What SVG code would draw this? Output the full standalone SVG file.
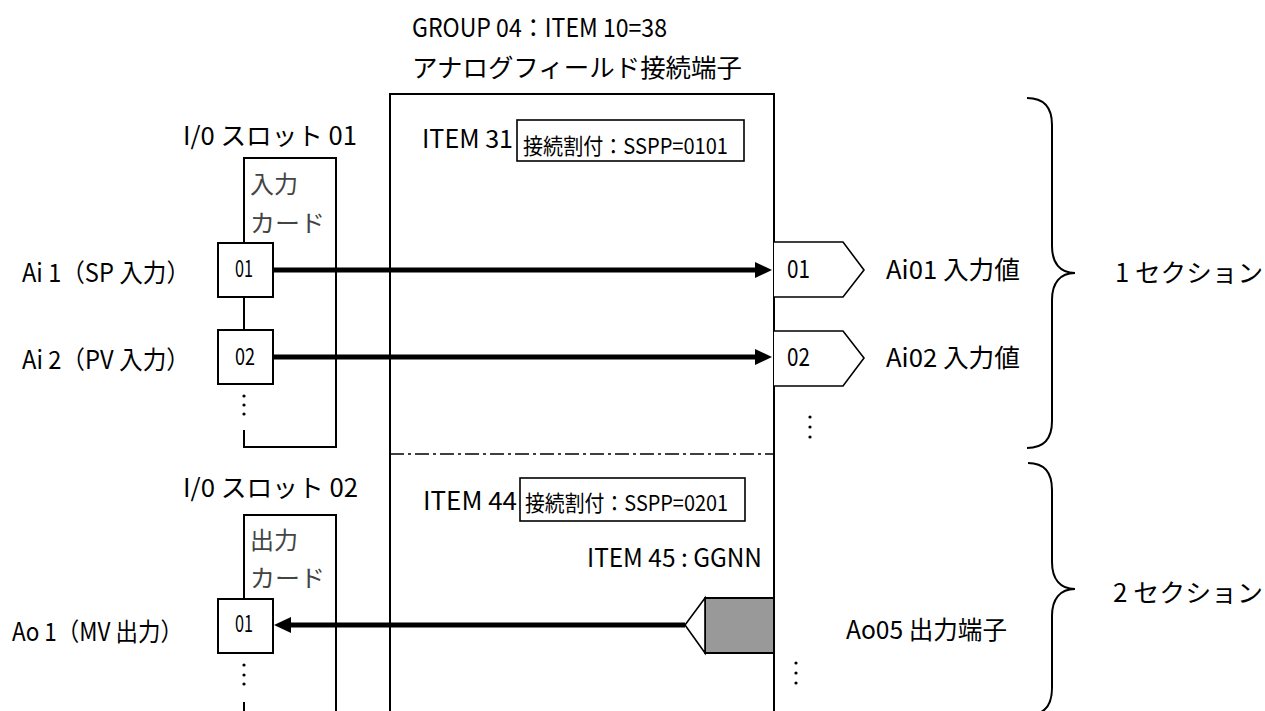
<svg xmlns="http://www.w3.org/2000/svg" width="1265" height="711" viewBox="0 0 1265 711">
<style>
text{font-family:"Noto Sans CJK JP","Noto Sans",sans-serif;font-size:25px;fill:#000}
.sm{font-size:22px}
.num{font-size:23px}
.card{fill:#444;font-size:24px}
.ln{fill:none;stroke:#000;stroke-width:2}
.box{fill:#fff;stroke:#000;stroke-width:2}
.thin{fill:#fff;stroke:#000;stroke-width:1.6}
.wire{fill:none;stroke:#000;stroke-width:5}
.dot{fill:#000}
</style>
<defs>
<marker id="ah" markerUnits="userSpaceOnUse" markerWidth="20" markerHeight="20" viewBox="0 -10 20 20" refX="2" refY="0" orient="auto">
<path d="M0,-8 L17,0 L0,8 Z" fill="#000"/>
</marker>
</defs>
<rect width="1265" height="711" fill="#fff"/>

<g id="title">
<text x="412" y="37" font-size="27" textLength="255" lengthAdjust="spacingAndGlyphs">GROUP 04：ITEM 10=38</text>
<text x="412" y="77" font-size="25" textLength="330" lengthAdjust="spacingAndGlyphs">アナログフィールド接続端子</text>
</g>

<g id="terminal-block">
<path class="ln" d="M390,711 L390,94 L774,94 L774,711"/>
<line x1="390" y1="454" x2="774" y2="454" stroke="#000" stroke-width="1.6" stroke-dasharray="14 4 3 4"/>
<text x="422" y="148" textLength="91" lengthAdjust="spacingAndGlyphs">ITEM  31</text>
<rect class="thin" x="517" y="120" width="227" height="41"/>
<text x="523" y="154" class="sm" textLength="205" lengthAdjust="spacingAndGlyphs">接続割付：SSPP=0101</text>
<text x="423" y="510" textLength="94" lengthAdjust="spacingAndGlyphs">ITEM  44</text>
<rect class="thin" x="520" y="478" width="225" height="43"/>
<text x="525" y="511" class="sm" textLength="203" lengthAdjust="spacingAndGlyphs">接続割付：SSPP=0201</text>
<text x="587" y="567" textLength="175" lengthAdjust="spacingAndGlyphs">ITEM 45 : GGNN</text>
</g>

<g id="slot01">
<text x="183" y="145" textLength="174" lengthAdjust="spacingAndGlyphs">I/0 スロット 01</text>
<path class="ln" d="M244,243 L244,158 L336,158 L336,447 L244,447 L244,430"/>
<line class="ln" x1="244" y1="297" x2="244" y2="330"/>
<text x="250" y="193" class="card">入力</text>
<text x="250" y="232" class="card" textLength="75" lengthAdjust="spacingAndGlyphs">カード</text>
<circle class="dot" cx="244" cy="396" r="1.6"/>
<circle class="dot" cx="244" cy="405" r="1.6"/>
<circle class="dot" cx="244" cy="414" r="1.6"/>
</g>

<g id="ai01-in">
<text x="22" y="282" textLength="168" lengthAdjust="spacingAndGlyphs">Ai 1（SP 入力）</text>
<rect class="box" x="218" y="243" width="55" height="54"/>
<text x="235" y="277" class="num" textLength="18" lengthAdjust="spacingAndGlyphs">01</text>
</g>

<g id="ai02-in">
<text x="22" y="369" textLength="168" lengthAdjust="spacingAndGlyphs">Ai 2（PV 入力）</text>
<rect class="box" x="218" y="330" width="55" height="54"/>
<text x="235" y="365" class="num" textLength="20" lengthAdjust="spacingAndGlyphs">02</text>
</g>

<g id="slot02">
<text x="183" y="497" textLength="175" lengthAdjust="spacingAndGlyphs">I/0 スロット 02</text>
<path class="ln" d="M244,599 L244,515 L336,515 L336,711"/>
<line class="ln" x1="244" y1="702" x2="244" y2="711"/>
<text x="250" y="549" class="card">出力</text>
<text x="250" y="587" class="card" textLength="75" lengthAdjust="spacingAndGlyphs">カード</text>
<circle class="dot" cx="244" cy="665" r="1.6"/>
<circle class="dot" cx="244" cy="675" r="1.6"/>
<circle class="dot" cx="244" cy="684" r="1.6"/>
</g>

<g id="ao01-out">
<text x="12" y="641" textLength="171" lengthAdjust="spacingAndGlyphs">Ao 1（MV 出力）</text>
<rect class="box" x="218" y="599" width="55" height="54"/>
<text x="235" y="632" class="num" textLength="18" lengthAdjust="spacingAndGlyphs">01</text>
</g>

<g id="term01">
<path class="thin" d="M774,242 L843,242 L864,270 L843,297 L774,297"/>
<text x="787" y="278" textLength="23" lengthAdjust="spacingAndGlyphs">01</text>
<text x="886" y="279" textLength="134" lengthAdjust="spacingAndGlyphs">Ai01 入力値</text>
</g>

<g id="term02">
<path class="thin" d="M774,331 L843,331 L864,358 L843,386 L774,386"/>
<text x="787" y="366" textLength="23" lengthAdjust="spacingAndGlyphs">02</text>
<text x="886" y="367" textLength="134" lengthAdjust="spacingAndGlyphs">Ai02 入力値</text>
<circle class="dot" cx="810" cy="417" r="1.6"/>
<circle class="dot" cx="810" cy="427" r="1.6"/>
<circle class="dot" cx="810" cy="437" r="1.6"/>
</g>

<g id="ao05">
<rect x="705" y="598" width="69" height="55" fill="#999" stroke="#000" stroke-width="2"/>
<path class="thin" d="M705,598 L685,625 L705,653 Z"/>
<text x="846" y="639" textLength="161" lengthAdjust="spacingAndGlyphs">Ao05 出力端子</text>
<circle class="dot" cx="796" cy="663" r="1.6"/>
<circle class="dot" cx="796" cy="673" r="1.6"/>
<circle class="dot" cx="796" cy="683" r="1.6"/>
</g>

<g id="section1">
<path class="ln" d="M1027,98 C1045,98 1052,108 1052,125 L1052,246 C1052,263 1060,273 1075,273 C1060,273 1052,283 1052,300 L1052,421 C1052,438 1045,448 1027,448"/>
<text x="1115" y="282" textLength="148" lengthAdjust="spacingAndGlyphs">1 セクション</text>
</g>

<g id="section2">
<path class="ln" d="M1028,463 C1045,463 1052,473 1052,490 L1052,562 C1052,579 1060,589 1075,589 C1060,589 1052,599 1052,616 L1052,688 C1052,705 1045,715 1028,715"/>
<text x="1113" y="602" textLength="150" lengthAdjust="spacingAndGlyphs">2 セクション</text>
</g>

<g id="connectors">
<line class="wire" x1="273" y1="270" x2="757" y2="270" marker-end="url(#ah)"/>
<line class="wire" x1="273" y1="357" x2="757" y2="357" marker-end="url(#ah)"/>
<line class="wire" x1="685" y1="625" x2="289" y2="625" marker-end="url(#ah)"/>
</g>
</svg>
